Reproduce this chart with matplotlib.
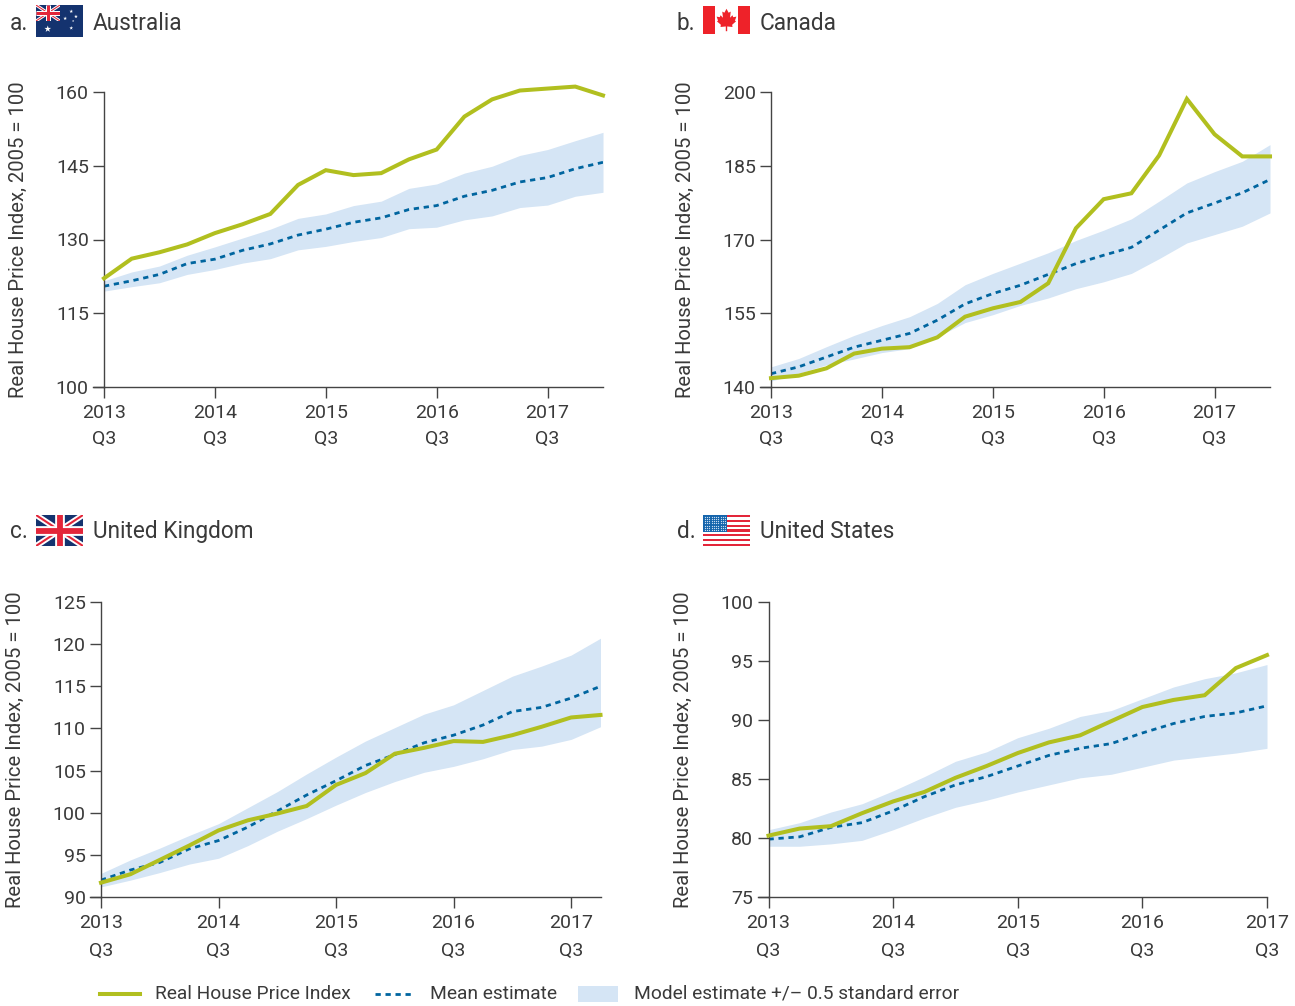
import matplotlib
matplotlib.use('Agg')
import matplotlib.pyplot as plt
import numpy as np
from matplotlib.lines import Line2D
from matplotlib.patches import Rectangle, Polygon

plt.rcParams['font.family'] = ['Roboto', 'Liberation Sans', 'DejaVu Sans']

W, H = 1295, 1006
GREEN = '#b1bf1f'
BLUE = '#00659f'
BAND = '#d5e5f5'
TEXT = '#3a3a3a'
AXIS = '#444444'

# values, one value per quarter from 2013 Q3
au_index = [122.1, 126.1, 127.4, 129.0, 131.3, 133.1, 135.2, 141.1, 144.1, 143.1, 143.5, 146.3, 148.3, 155.0, 158.5, 160.3, 160.7, 161.1, 159.3]
au_mean = [120.5, 121.6, 122.9, 125.1, 126.0, 127.8, 129.1, 130.9, 132.1, 133.5, 134.4, 136.1, 136.9, 138.8, 140.0, 141.7, 142.6, 144.4, 145.7]
au_upper = [121.6, 123.4, 124.6, 126.8, 128.5, 130.3, 132.1, 134.3, 135.2, 136.9, 137.8, 140.4, 141.3, 143.5, 144.9, 147.1, 148.3, 150.1, 151.8]
au_lower = [119.5, 120.4, 121.2, 122.9, 123.9, 125.2, 126.1, 127.9, 128.6, 129.6, 130.4, 132.2, 132.5, 134.0, 134.8, 136.5, 137.0, 138.8, 139.6]

ca_index = [141.8, 142.3, 143.8, 146.8, 147.8, 148.1, 150.1, 154.3, 156.0, 157.3, 161.1, 172.3, 178.2, 179.4, 187.1, 198.6, 191.4, 186.9, 186.9]
ca_mean = [142.7, 144.1, 146.1, 148.1, 149.5, 150.9, 153.6, 156.9, 159.0, 160.7, 162.9, 165.1, 166.8, 168.4, 171.9, 175.4, 177.4, 179.5, 182.2]
ca_upper = [144.1, 145.8, 148.2, 150.5, 152.5, 154.3, 157.0, 160.8, 163.1, 165.2, 167.3, 169.8, 171.9, 174.2, 177.8, 181.5, 183.8, 185.9, 189.3]
ca_lower = [141.2, 142.8, 144.5, 145.7, 147.0, 147.8, 150.2, 153.1, 154.7, 156.6, 158.1, 160.0, 161.4, 163.1, 166.1, 169.3, 171.0, 172.7, 175.4]

uk_index = [91.7, 92.7, 94.4, 96.1, 97.9, 99.1, 99.9, 100.8, 103.3, 104.7, 107.0, 107.7, 108.5, 108.4, 109.2, 110.2, 111.3, 111.6]
uk_mean = [92.0, 93.2, 94.1, 95.7, 96.7, 98.3, 100.2, 102.1, 103.8, 105.6, 106.9, 108.3, 109.2, 110.4, 112.0, 112.5, 113.6, 115.0]
uk_upper = [92.8, 94.4, 95.8, 97.3, 98.7, 100.6, 102.5, 104.6, 106.6, 108.5, 110.1, 111.7, 112.8, 114.5, 116.2, 117.4, 118.7, 120.7]
uk_lower = [91.2, 92.0, 92.9, 93.9, 94.6, 96.1, 97.8, 99.3, 100.9, 102.4, 103.7, 104.8, 105.5, 106.4, 107.5, 107.9, 108.7, 110.2]

us_index = [80.2, 80.8, 81.0, 82.1, 83.1, 83.9, 85.1, 86.1, 87.2, 88.1, 88.7, 89.9, 91.1, 91.7, 92.1, 94.4, 95.5]
us_mean = [79.9, 80.1, 80.9, 81.3, 82.3, 83.5, 84.5, 85.2, 86.1, 87.0, 87.6, 88.0, 88.9, 89.7, 90.3, 90.6, 91.2]
us_upper = [80.7, 81.3, 82.2, 82.9, 84.0, 85.2, 86.5, 87.3, 88.5, 89.3, 90.3, 90.8, 91.8, 92.8, 93.5, 94.0, 94.7]
us_lower = [79.3, 79.3, 79.5, 79.8, 80.7, 81.7, 82.6, 83.2, 83.9, 84.5, 85.1, 85.4, 86.0, 86.6, 86.9, 87.2, 87.6]

au_ticks = [100, 115, 130, 145, 160]
ca_ticks = [140, 155, 170, 185, 200]
uk_ticks = [90, 95, 100, 105, 110, 115, 120, 125]
us_ticks = [75, 80, 85, 90, 95, 100]
year_labels = ['2013\nQ3', '2014\nQ3', '2015\nQ3', '2016\nQ3', '2017\nQ3']
y_label = 'Real House Price Index, 2005 = 100'

fig = plt.figure(figsize=(W / 100, H / 100), dpi=100, facecolor='white')


def axes_px(x0, y0, x1, y1):
    return fig.add_axes([x0 / W, 1 - y1 / H, (x1 - x0) / W, (y1 - y0) / H])


def panel(box, index, mean, upper, lower, ticks, label_x, spacing):
    ax = axes_px(*box)
    x = np.arange(len(index))
    ax.fill_between(x, lower, upper, color=BAND, lw=0, zorder=1)
    ax.plot(x, mean, color=BLUE, lw=2, dashes=(1.9, 1.7), zorder=2)
    ax.plot(x, index, color=GREEN, lw=2.9, solid_joinstyle='miter', clip_on=False, zorder=3)
    ax.set_xlim(0, len(index) - 1)
    ax.set_ylim(ticks[0], ticks[-1])
    ax.set_yticks(ticks)
    ax.set_xticks([0, 4, 8, 12, 16])
    ax.set_xticklabels(year_labels, linespacing=spacing)
    ax.tick_params(axis='both', length=8, width=1, color=AXIS, labelsize=14, labelcolor=TEXT)
    ax.tick_params(axis='y', pad=3)
    ax.tick_params(axis='x', pad=4)
    for s in ['top', 'right']:
        ax.spines[s].set_visible(False)
    for s in ['left', 'bottom']:
        ax.spines[s].set_color(AXIS)
        ax.spines[s].set_linewidth(1)
    # the axis line runs on to the end of the lowest tick
    ax.plot([-11 / (box[2] - box[0]), 0], [0, 0], transform=ax.transAxes, color=AXIS, lw=1, clip_on=False)
    fig.text(label_x / W, 1 - (box[1] + box[3]) / 2 / H, y_label, rotation=90,
             ha='center', va='center', fontsize=14.6, color=TEXT)
    return ax


panel((104, 92, 603, 387), au_index, au_mean, au_upper, au_lower, au_ticks, 18, 1.62)
panel((771, 92, 1270, 387), ca_index, ca_mean, ca_upper, ca_lower, ca_ticks, 685, 1.62)
panel((101, 602, 600.5, 897), uk_index, uk_mean, uk_upper, uk_lower, uk_ticks, 15, 1.75)
panel((768.5, 602, 1267, 897), us_index, us_mean, us_upper, us_lower, us_ticks, 683, 1.75)


def flag_axes(x0, y0, x1, y1):
    ax = axes_px(x0, y0, x1, y1)
    ax.set_xlim(0, 1)
    ax.set_ylim(1, 0)
    ax.axis('off')
    return ax


def union_jack(x0, y0, x1, y1):
    ax = flag_axes(x0, y0, x1, y1)
    navy, red = '#14336f', '#e3263a'
    ax.add_patch(Rectangle((0, 0), 1, 1, color=navy, lw=0))
    k = (y1 - y0) / 31
    ax.plot([0, 1], [0, 1], color='white', lw=4.2 * k, solid_capstyle='butt')
    ax.plot([0, 1], [1, 0], color='white', lw=4.2 * k, solid_capstyle='butt')
    ax.plot([0, 1], [0, 1], color=red, lw=1.5 * k, solid_capstyle='butt')
    ax.plot([0, 1], [1, 0], color=red, lw=1.5 * k, solid_capstyle='butt')
    ax.plot([0.5, 0.5], [0, 1], color='white', lw=7 * k, solid_capstyle='butt')
    ax.plot([0, 1], [0.5, 0.5], color='white', lw=7 * k, solid_capstyle='butt')
    ax.plot([0.5, 0.5], [0, 1], color=red, lw=4.2 * k, solid_capstyle='butt')
    ax.plot([0, 1], [0.5, 0.5], color=red, lw=4.2 * k, solid_capstyle='butt')


def flag_australia(x0, y0, x1, y1):
    ax = flag_axes(x0, y0, x1, y1)
    ax.add_patch(Rectangle((0, 0), 1, 1, color='#14336f', lw=0))
    ax.scatter([0.25, 0.75, 0.75, 0.62, 0.85, 0.79], [0.75, 0.2, 0.72, 0.42, 0.36, 0.5],
               marker='*', c='white', s=[26, 8, 8, 8, 8, 3], lw=0)
    union_jack(x0, y0, x0 + 24, y0 + 16)


def flag_canada(x0, y0, x1, y1):
    ax = flag_axes(x0, y0, x1, y1)
    red = '#ee2229'
    ax.add_patch(Rectangle((0, 0), 0.26, 1, color=red, lw=0))
    ax.add_patch(Rectangle((0.74, 0), 0.26, 1, color=red, lw=0))
    leaf = [(0.5, 0.1), (0.56, 0.24), (0.62, 0.2), (0.6, 0.42), (0.67, 0.33), (0.69, 0.4), (0.78, 0.38),
            (0.74, 0.52), (0.77, 0.55), (0.66, 0.67), (0.67, 0.75), (0.52, 0.73), (0.52, 0.9), (0.48, 0.9),
            (0.48, 0.73), (0.33, 0.75), (0.34, 0.67), (0.23, 0.55), (0.26, 0.52), (0.22, 0.38), (0.31, 0.4),
            (0.33, 0.33), (0.4, 0.42), (0.38, 0.2), (0.44, 0.24)]
    leaf = [(0.5 + (a - 0.5) * 0.75, b) for a, b in leaf]
    ax.add_patch(Polygon(leaf, color=red, lw=0))


def flag_us(x0, y0, x1, y1):
    ax = flag_axes(x0, y0, x1, y1)
    for i in range(13):
        c = '#e3263a' if i % 2 == 0 else 'white'
        ax.add_patch(Rectangle((0, i / 13), 1, 1 / 13, color=c, lw=0))
    ax.add_patch(Rectangle((0, 0), 0.51, 7 / 13, color='#1565ac', lw=0))
    gx, gy = np.meshgrid(np.linspace(0.04, 0.47, 10), np.linspace(0.05, 0.49, 7))
    ax.scatter(gx.ravel(), gy.ravel(), s=0.8, c='#cfe0f2', lw=0)


flag_australia(36, 5, 83, 37)
flag_canada(703, 6, 750, 34)
union_jack(36, 515, 83, 546)
flag_us(703, 515, 750, 546)

titles = [(10, 30, 'a.'), (93, 30, 'Australia'), (677, 30, 'b.'), (760, 30, 'Canada'),
          (10, 538, 'c.'), (93, 538, 'United Kingdom'), (677, 538, 'd.'), (760, 538, 'United States')]
for tx, ty, t in titles:
    fig.text(tx / W, 1 - ty / H, t, ha='left', va='baseline', fontsize=16.3, color=TEXT)

# legend, placed by hand under the panels
leg_y = 1 - 994 / H
fig.add_artist(Line2D([100 / W, 140 / W], [leg_y, leg_y], color=GREEN, lw=2.9))
fig.add_artist(Line2D([375 / W, 415 / W], [leg_y, leg_y], color=BLUE, lw=2, dashes=(1.9, 1.7)))
fig.add_artist(Rectangle((578 / W, 1 - 1002 / H), 40 / W, 16 / H, color=BAND, lw=0, transform=fig.transFigure))
for tx, t in [(155, 'Real House Price Index'), (430, 'Mean estimate'), (634, 'Model estimate +/– 0.5 standard error')]:
    fig.text(tx / W, leg_y, t, ha='left', va='center', fontsize=13.8, color=TEXT)

fig.savefig('out.png', dpi=100)
